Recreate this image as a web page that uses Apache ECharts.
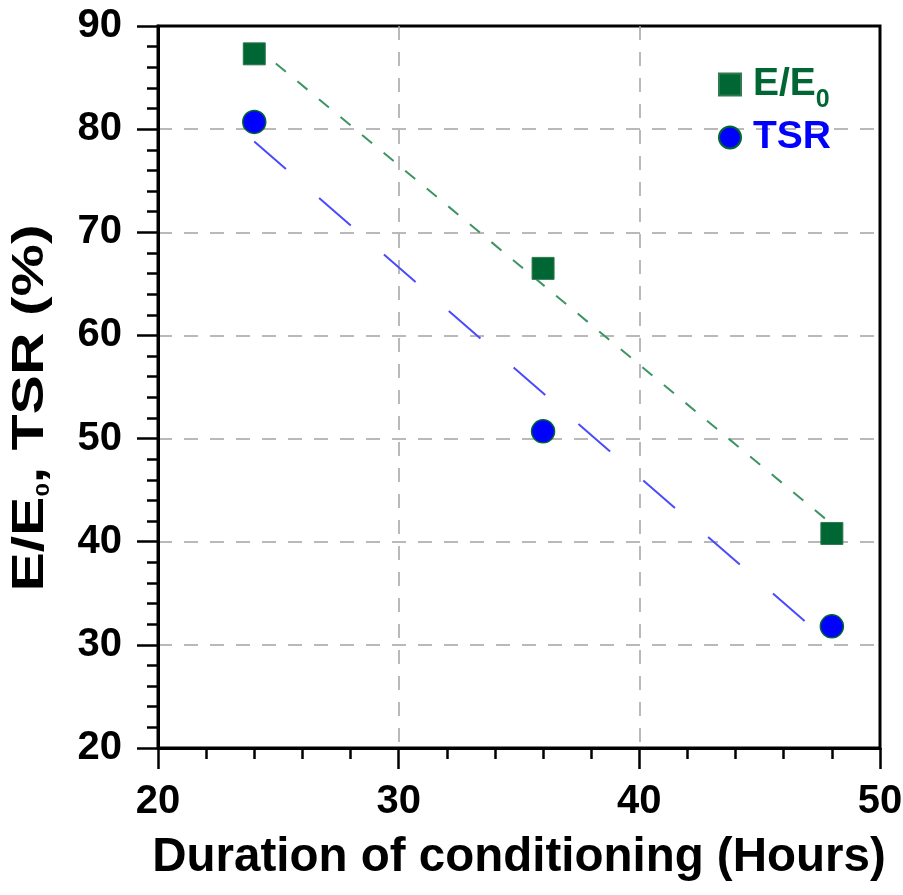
<!DOCTYPE html>
<html>
<head>
<meta charset="utf-8">
<script src="https://cdn.jsdelivr.net/npm/echarts@6/dist/echarts.min.js"></script>
<style>
  html, body { margin: 0; padding: 0; background: #fff; }
  #chart { width: 903px; height: 895px; }
</style>
</head>
<body>
<div id="chart"></div>
<script>
// measured points
var hours = [24, 36, 48];
var eRatio = [87.3, 66.5, 40.8];
var tsr = [80.7, 50.7, 31.8];

// ends of the fitted lines
var fitHours = [24, 48];
var eFit = [88.1, 41.7];
var tsrFit = [78.8, 30.0];

var FONT = 'Liberation Sans, Arial, sans-serif';

function pairs(xs, ys) {
  return xs.map(function (x, i) { return [x, ys[i]]; });
}

var chart = echarts.init(document.getElementById('chart'), null, { renderer: 'canvas' });

var axisCommon = {
  type: 'value',
  interval: 10,
  axisLine: { show: true, lineStyle: { color: '#000', width: 3 } },
  axisTick: { show: true, inside: false, length: 21, lineStyle: { color: '#000', width: 2.5 } },
  minorTick: { show: true, splitNumber: 5, length: 11, lineStyle: { color: '#000', width: 2.5 } },
  axisLabel: { color: '#000', fontFamily: FONT, fontWeight: 'bold', fontSize: 40, margin: 36 },
  splitLine: {
    show: true, showMinLine: false, showMaxLine: false,
    lineStyle: { color: '#a3a3a3', width: 1.5, type: [14, 12] }
  }
};

var option = {
  animation: false,
  backgroundColor: '#fff',
  grid: {
    left: 158, right: 23, top: 26, bottom: 147,
    show: true, borderColor: '#000', borderWidth: 3,
    outerBoundsMode: 'none'
  },
  legend: {
    orient: 'vertical',
    left: 713,
    top: 60,
    itemWidth: 22,
    itemHeight: 22,
    itemGap: 5,
    data: ['E/E0', 'TSR'],
    formatter: function (name) {
      return name === 'E/E0' ? '{g|E/E}{gs|0}' : '{b|TSR}';
    },
    textStyle: {
      padding: [0, 0, 0, 7],
      rich: {
        g: { color: '#006633', fontFamily: FONT, fontWeight: 'bold', fontSize: 39, lineHeight: 57 },
        gs: { color: '#006633', fontFamily: FONT, fontWeight: 'bold', fontSize: 25, lineHeight: 57, verticalAlign: 'bottom' },
        b: { color: '#0000ff', fontFamily: FONT, fontWeight: 'bold', fontSize: 39, lineHeight: 57 }
      }
    }
  },
  // y title drawn as text so it can be stretched along its length like the original
  graphic: [{
    type: 'text',
    x: 31,
    y: 408,
    rotation: Math.PI / 2,
    scaleX: 1.34,
    silent: true,
    style: {
      text: '{m|E/E}{s|0}{m|, TSR (%)}',
      align: 'center',
      verticalAlign: 'middle',
      rich: {
        m: { fill: '#000', fontFamily: FONT, fontWeight: 'bold', fontSize: 44, lineHeight: 45 },
        s: { fill: '#000', fontFamily: FONT, fontWeight: 'bold', fontSize: 18, lineHeight: 45, verticalAlign: 'bottom' }
      }
    }
  }],
  xAxis: Object.assign({}, axisCommon, {
    min: 20, max: 50,
    axisLabel: Object.assign({}, axisCommon.axisLabel, { margin: 34 }),
    name: 'Duration of conditioning (Hours)',
    nameLocation: 'middle',
    nameGap: 86,
    nameTextStyle: { color: '#000', fontFamily: FONT, fontWeight: 'bold', fontSize: 47.5 }
  }),
  yAxis: Object.assign({}, axisCommon, {
    min: 20, max: 90
  }),
  series: [
    {
      name: 'E/E0 fit',
      type: 'line',
      data: pairs(fitHours, eFit),
      symbol: 'none',
      silent: true,
      z: 2,
      lineStyle: { color: '#3d9463', width: 2, type: [13, 15] }
    },
    {
      name: 'TSR fit',
      type: 'line',
      data: pairs(fitHours, tsrFit),
      symbol: 'none',
      silent: true,
      z: 2,
      lineStyle: { color: '#4a4aff', width: 2, type: [42, 44] }
    },
    {
      name: 'E/E0',
      type: 'scatter',
      data: pairs(hours, eRatio),
      symbol: 'rect',
      symbolSize: 22,
      z: 5,
      itemStyle: { color: '#006633', borderColor: '#2f7a4f', borderWidth: 1, opacity: 1 }
    },
    {
      name: 'TSR',
      type: 'scatter',
      data: pairs(hours, tsr),
      symbol: 'circle',
      symbolSize: 23,
      z: 5,
      itemStyle: { color: '#0000ff', borderColor: '#006633', borderWidth: 1.5, opacity: 1 }
    }
  ]
};

chart.setOption(option);
</script>
</body>
</html>
